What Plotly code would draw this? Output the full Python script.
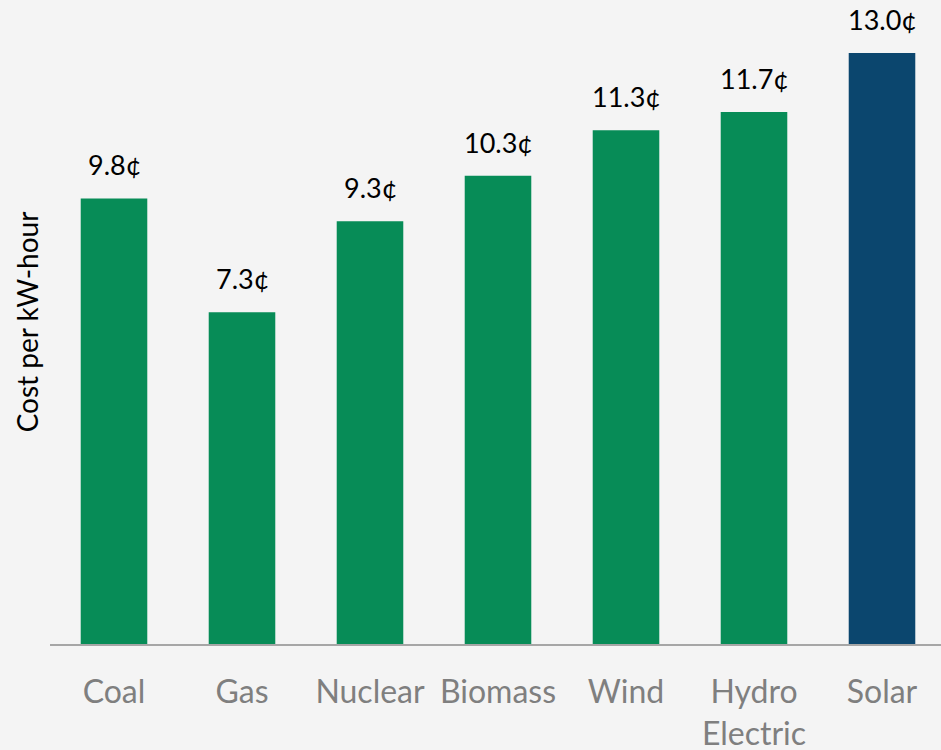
import plotly.graph_objects as go

categories = ["Coal", "Gas", "Nuclear", "Biomass", "Wind", "Hydro<br>Electric", "Solar"]
values = [9.8, 7.3, 9.3, 10.3, 11.3, 11.7, 13.0]
labels = ["9.8¢", "7.3¢", "9.3¢", "10.3¢", "11.3¢", "11.7¢", "13.0¢"]
colors = ["#078c57"] * 6 + ["#0b466e"]

FONT = "Lato"

fig = go.Figure()
fig.add_trace(go.Bar(
    x=categories, y=values, marker_color=colors, width=0.52,
    marker_line_width=0, hoverinfo="skip",
))
for c, v, t in zip(categories, values, labels):
    fig.add_annotation(x=c, y=v, text=t, showarrow=False, yanchor="bottom",
                       yshift=15, font=dict(family=FONT, size=27, color="#000000"))

fig.update_layout(
    width=941, height=750,
    margin=dict(l=50, r=0, t=0, b=106, autoexpand=False),
    paper_bgcolor="#f4f4f4", plot_bgcolor="#f4f4f4",
    showlegend=False,
    xaxis=dict(
        range=[-0.5, -0.5 + 891 / 128], showline=True, linecolor="#a6a6a6", linewidth=2,
        ticks="", showgrid=False, ticklabelstandoff=19, automargin=False,
        tickfont=dict(family=FONT, size=32, color="#7f7f7f"),
    ),
    yaxis=dict(
        range=[0, 644 / 45.46], showgrid=False, zeroline=False, showticklabels=False,
        automargin=False,
        title=dict(text="Cost per kW-hour", standoff=2,
                   font=dict(family=FONT, size=28, color="#000000")),
    ),
)
fig.write_html("out.html")
